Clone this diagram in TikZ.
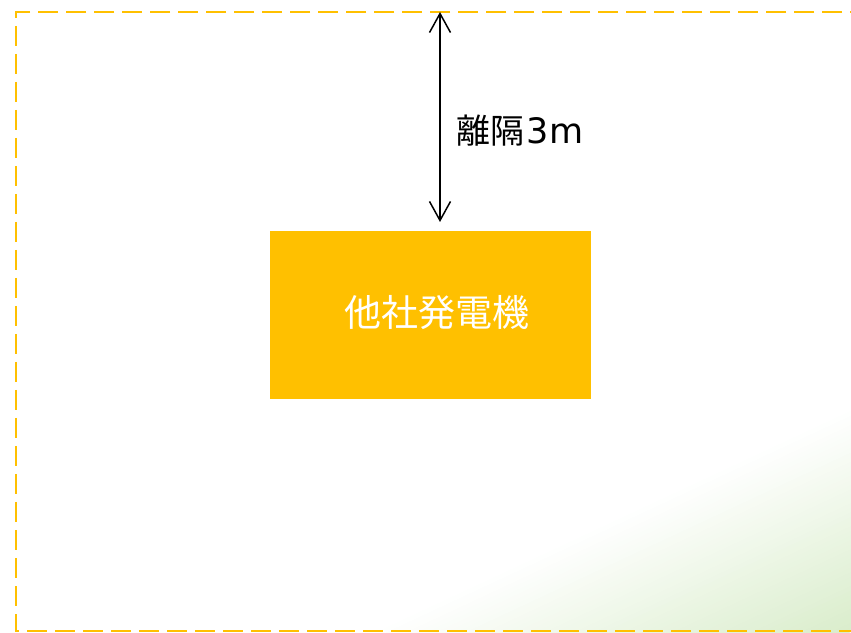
\documentclass[tikz,border=0pt]{standalone}
\usepackage{fontspec}
\newfontfamily\jpfont{Noto Sans CJK JP}
\newfontfamily\latfont{DejaVu Sans}
\usetikzlibrary{arrows.meta}
\definecolor{gold}{HTML}{FFC000}
\definecolor{lightgreen}{RGB}{218,237,204}
\tikzset{
  genbox/.style={fill=gold, draw=none, minimum width=321pt, minimum height=168pt, inner sep=0pt},
  boundary/.style={draw=gold, line width=2pt, dash pattern=on 20pt off 8pt},
  gap/.style={draw=black, line width=1.5pt, {Straight Barb[length=19pt,width=21pt,line width=1.5pt]}-{Straight Barb[length=19pt,width=21pt,line width=1.5pt]}},
}
\begin{document}
\begin{tikzpicture}[x=1pt,y=1pt]
\useasboundingbox (0,0) rectangle (851,632);
% green gradient corner
\begin{scope}
  \clip (0,0) rectangle (851,632);
  \begin{scope}[shift={(851,0)}, rotate=25]
    \foreach \i in {0,...,47} {
      \pgfmathsetmacro{\pct}{100-\i*100/48}
      \fill[lightgreen!\pct!white] (-1400,{\i*200/48}) rectangle (600,{(\i+1)*200/48+0.6});
    }
  \end{scope}
\end{scope}
% boundary dashed line
\draw[boundary] (870,620) -- (16,620) -- (16,1) -- (870,1);
% generator
\node[genbox] (gen) at (430.5,317) {};
\node[text=white, font=\jpfont\fontsize{37}{40}\selectfont] (genlabel) at (437,319) {他社発電機};
% distance arrow
\coordinate (top) at (440,620);
\coordinate (bot) at (440,410);
\draw[gap] (top) -- (bot);
\node[anchor=west, font=\jpfont\fontsize{34}{38}\selectfont, inner sep=0pt] (dist) at (456,501) {離隔{\latfont\fontsize{35}{38}\selectfont\kern2pt 3\kern1pt m}};
\end{tikzpicture}
\end{document}
